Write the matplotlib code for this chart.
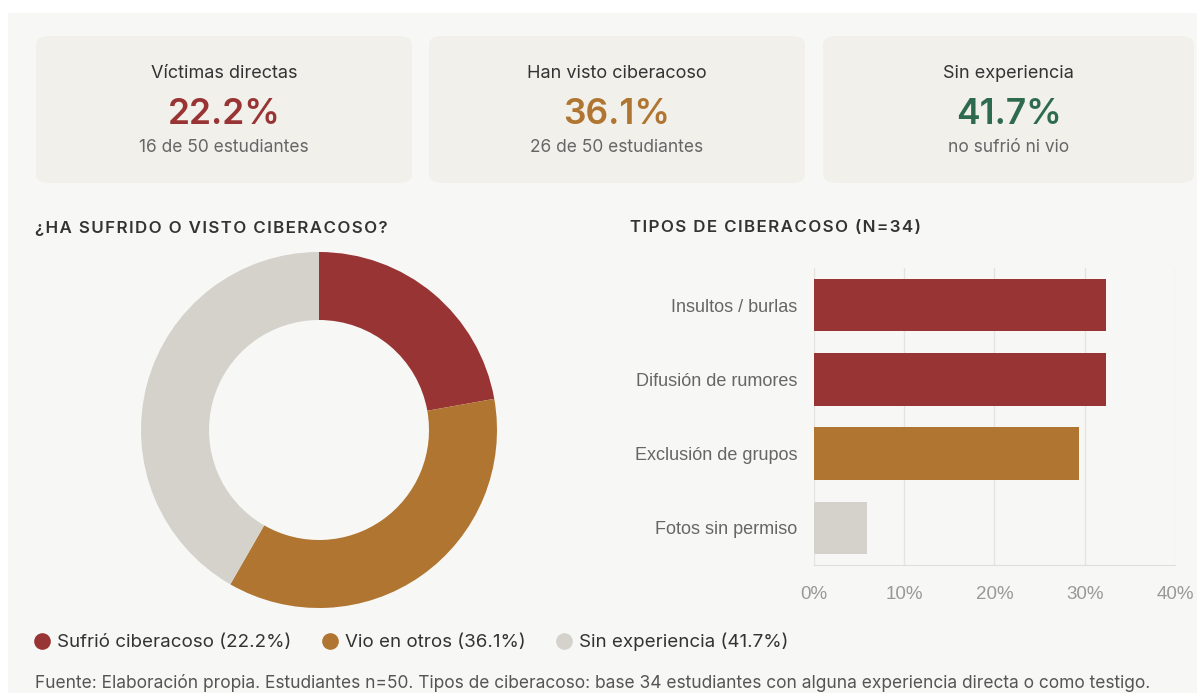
import matplotlib
matplotlib.use("Agg")
from matplotlib import pyplot as plt
from matplotlib.patches import FancyBboxPatch, Rectangle
from matplotlib.lines import Line2D

# ---- data ----
card_titles = ["Víctimas directas", "Han visto ciberacoso", "Sin experiencia"]
card_values = ["22.2%", "36.1%", "41.7%"]
card_notes = ["16 de 50 estudiantes", "26 de 50 estudiantes", "no sufrió ni vio"]

donut_labels = ["Sufrió ciberacoso", "Vio en otros", "Sin experiencia"]
donut_values = [22.2, 36.1, 41.7]

tipos = ["Insultos / burlas", "Difusión de rumores", "Exclusión de grupos", "Fotos sin permiso"]
tipos_pct = [32.4, 32.4, 29.4, 5.9]

RED = "#983434"
ORANGE = "#B07530"
GREY = "#D4D2CB"
GREEN = "#2E6A4E"
card_colors = [RED, ORANGE, GREEN]
donut_colors = [RED, ORANGE, GREY]
bar_colors = [RED, RED, ORANGE, GREY]

W, H = 1197, 693
fig = plt.figure(figsize=(W / 100, H / 100), dpi=100)
fig.patch.set_facecolor("white")


def fx(px):
    return px / W


def fy(py):
    return 1 - py / H


def spaced(s):
    # letter spacing with hair spaces
    return "\u200a".join(s)


# background panel (behind the axes)
fig.patches.append(Rectangle((fx(8), 0), 1, fy(13), transform=fig.transFigure,
                             facecolor="#F7F7F5", edgecolor="none", zorder=-3))

# cards
card_x = [(36, 412), (429, 805), (823, 1194)]
for (x0, x1), t, v, n, c in zip(card_x, card_titles, card_values, card_notes, card_colors):
    fig.patches.append(FancyBboxPatch((fx(x0), fy(183)), fx(x1 - x0), (183 - 36) / H,
                                      boxstyle="round,pad=0,rounding_size=0.012",
                                      transform=fig.transFigure, facecolor="#F1F0EB",
                                      edgecolor="none", zorder=-2))
    cx = fx((x0 + x1) / 2)
    fig.text(cx, fy(74), t, ha="center", va="center", fontsize=13, color="#333333",
             family="Inter")
    fig.text(cx, fy(115), v, ha="center", va="center", fontsize=25.5, color=c,
             family="Inter", fontweight="semibold")
    fig.text(cx, fy(147), n, ha="center", va="center", fontsize=12.5, color="#666666",
             family="Inter")

# section titles
fig.text(fx(35), fy(228), spaced("¿HA SUFRIDO O VISTO CIBERACOSO?"), ha="left", va="center",
         fontsize=12.2, color="#333333", family=["Inter", "DejaVu Sans"], fontweight="semibold")
fig.text(fx(630), fy(228), spaced("TIPOS DE CIBERACOSO (N=34)"), ha="left", va="center",
         fontsize=12.2, color="#333333", family=["Inter", "DejaVu Sans"], fontweight="semibold")

# donut
R = 180
ax1 = fig.add_axes([fx(319 - R), fy(430 + R), 2 * R / W, 2 * R / H])
ax1.pie(donut_values, colors=donut_colors, startangle=90, counterclock=False,
        radius=178 / R, wedgeprops=dict(width=(178 - 110) / R, edgecolor="none"))
ax1.set_xlim(-1, 1)
ax1.set_ylim(-1, 1)
ax1.set_aspect("equal")
ax1.axis("off")

# bars
ax2 = fig.add_axes([fx(814), fy(565), (1175 - 814) / W, (565 - 268) / H])
ax2.set_facecolor("none")
ypos = list(range(len(tipos)))
ax2.barh(ypos, tipos_pct, height=0.71, color=bar_colors, zorder=3)
ax2.set_xlim(0, 40)
ax2.set_ylim(len(tipos) - 0.5, -0.5)
ax2.set_xticks([0, 10, 20, 30, 40])
ax2.set_xticklabels([f"{v}%" for v in [0, 10, 20, 30, 40]])
ax2.set_yticks(ypos)
ax2.set_yticklabels(tipos)
ax2.grid(axis="x", color="#E4E3DF", linewidth=1, zorder=0)
for s in ["top", "right", "left"]:
    ax2.spines[s].set_visible(False)
ax2.spines["bottom"].set_color("#E0DFDB")
ax2.tick_params(axis="both", length=0)
ax2.tick_params(axis="y", pad=12, labelsize=13, labelcolor="#666666")
ax2.tick_params(axis="x", pad=15, labelsize=13.5, labelcolor="#999999")
for lab in ax2.get_xticklabels() + ax2.get_yticklabels():
    lab.set_family("Liberation Sans")

# legend
handles = [Line2D([], [], marker="o", linestyle="none", markersize=12,
                  markerfacecolor=c, markeredgecolor="none") for c in donut_colors]
labels = [f"{l} ({v}%)" for l, v in zip(donut_labels, donut_values)]
leg = fig.legend(handles, labels, loc="center left", bbox_to_anchor=(fx(14), fy(642)),
                 ncol=3, frameon=False, handletextpad=0.2, columnspacing=1.45,
                 prop={"family": "Inter", "size": 13.5}, handlelength=1.2)
for t in leg.get_texts():
    t.set_color("#333333")

# footnote
fig.text(fx(35), fy(683), "Fuente: Elaboración propia. Estudiantes n=50. Tipos de ciberacoso: "
         "base 34 estudiantes con alguna experiencia directa o como testigo.",
         ha="left", va="center", fontsize=12.5, color="#555555", family="Inter")

fig.savefig("out.png", dpi=100)
